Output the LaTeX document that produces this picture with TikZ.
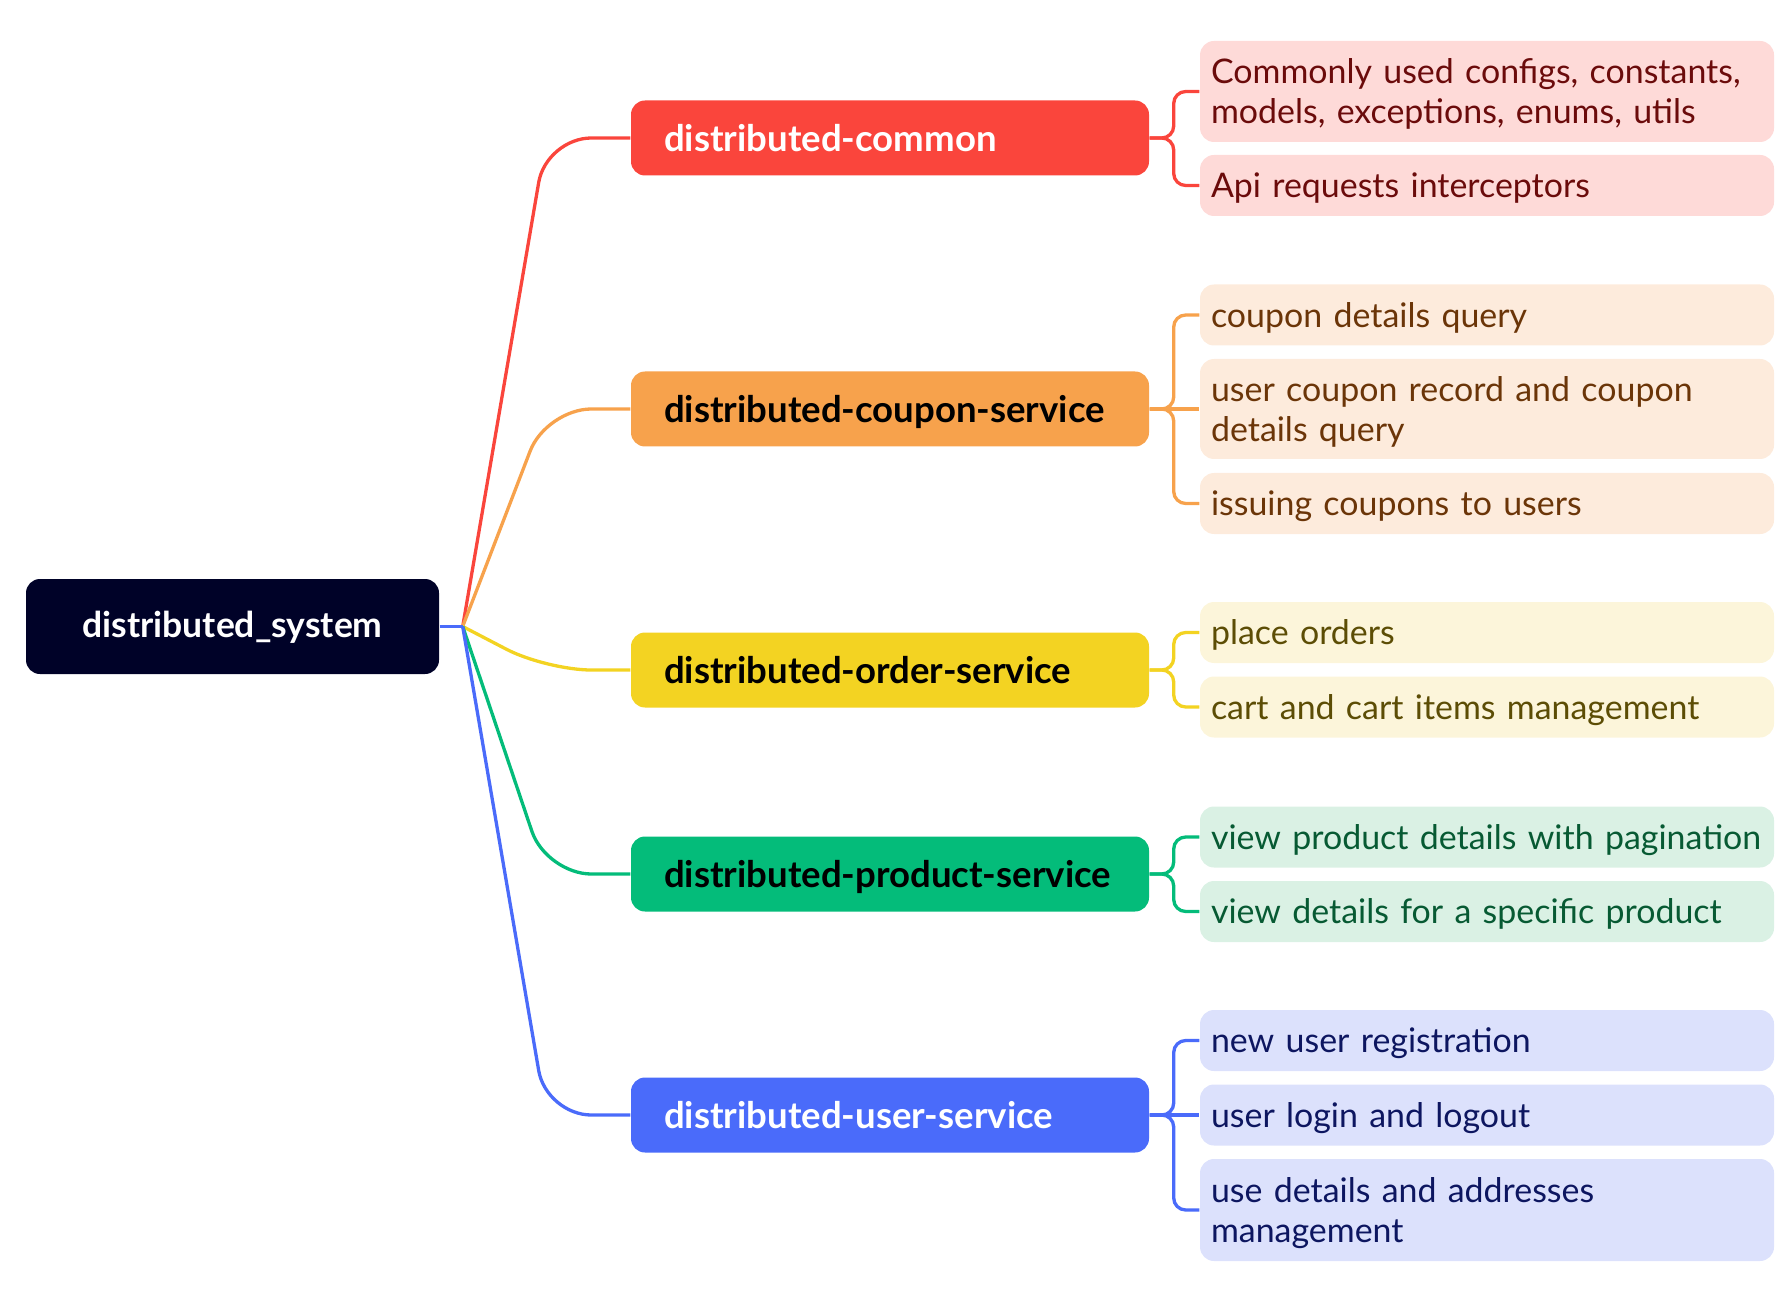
\documentclass[tikz,border=0pt]{standalone}
\usepackage{fontspec}
\setmainfont{Lato}
\definecolor{rootbg}{HTML}{000228}
\definecolor{cred}{HTML}{FA453C}
\definecolor{cora}{HTML}{F7A24C}
\definecolor{cyel}{HTML}{F3D322}
\definecolor{cgrn}{HTML}{04BC7A}
\definecolor{cblu}{HTML}{4A6BFA}
\definecolor{lred}{HTML}{FEDAD8}
\definecolor{lora}{HTML}{FDEBDC}
\definecolor{lyel}{HTML}{FCF5DA}
\definecolor{lgrn}{HTML}{DAF1E4}
\definecolor{lblu}{HTML}{DCE1FC}
\definecolor{tred}{HTML}{6B0B0B}
\definecolor{tora}{HTML}{6B3508}
\definecolor{tyel}{HTML}{5C4D05}
\definecolor{tgrn}{HTML}{075A33}
\definecolor{tblu}{HTML}{0D1660}
\begin{document}
\begin{tikzpicture}[x=0.1mm, y=-0.1mm]
\tikzstyle{every node}=[rounded corners=1.4mm, inner sep=0pt]
\tikzstyle{topic}=[minimum height=7.5mm, text width=45.2mm, align=left, inner xsep=3.3mm, font=\fontsize{10.4}{12}\selectfont\bfseries, execute at begin node={\rule{0pt}{10pt}}, execute at end node={\rule[-2.1pt]{0pt}{0pt}}]
\tikzstyle{leaf}=[minimum height=6.1mm, text width=55.2mm, align=left, inner xsep=1.1mm, font=\fontsize{9.65}{11.4}\selectfont, execute at begin node={\rule{0pt}{9.5pt}}, execute at end node={\rule[-2.5pt]{0pt}{0pt}}]
\tikzstyle{link}=[line width=0.33mm, rounded corners=4.5mm]
\tikzstyle{fork}=[line width=0.33mm, rounded corners=1.2mm]
\useasboundingbox (0,0) rectangle (1792,1290);
\node[fill=rootbg, text=white, minimum width=41.3mm, minimum height=9.5mm, text height=9pt, text depth=2.7pt, font=\fontsize{10.1}{12}\selectfont\bfseries](root) at (232.5,626.5) {distributed\_system};
% main branches
\node[topic,fill=cred,text=white](m0) at (890,138) {distributed-common};
\node[topic,fill=cora](m1) at (890,409) {distributed-coupon-service};
\node[topic,fill=cyel](m2) at (890,670) {distributed-order-service};
\node[topic,fill=cgrn](m3) at (890,874) {distributed-product-service};
\node[topic,fill=cblu,text=white](m4) at (890,1115) {distributed-user-service};
% leaves
\node[leaf,fill=lred,text=tred,minimum height=10.1mm](l00) at (1487,91.5) {Commonly used configs, constants,\\models, exceptions, enums, utils};
\node[leaf,fill=lred,text=tred](l01) at (1487,185.5) {Api requests interceptors};
\node[leaf,fill=lora,text=tora](l10) at (1487,315) {coupon details query};
\node[leaf,fill=lora,text=tora,minimum height=10mm](l11) at (1487,409) {user coupon record and coupon\\details query};
\node[leaf,fill=lora,text=tora](l12) at (1487,503.5) {issuing coupons to users};
\node[leaf,fill=lyel,text=tyel](l20) at (1487,632.5) {place orders};
\node[leaf,fill=lyel,text=tyel](l21) at (1487,707) {cart and cart items management};
\node[leaf,fill=lgrn,text=tgrn](l30) at (1487,837) {view product details with pagination};
\node[leaf,fill=lgrn,text=tgrn](l31) at (1487,911.5) {view details for a specific product};
\node[leaf,fill=lblu,text=tblu](l40) at (1487,1040.5) {new user registration};
\node[leaf,fill=lblu,text=tblu](l41) at (1487,1115) {user login and logout};
\node[leaf,fill=lblu,text=tblu,minimum height=10.2mm](l42) at (1487,1210) {use details and addresses\\management};
% root to branches
\coordinate (hub) at ([xshift=2.3mm]root.east);
\draw[link,cred] (hub) -- ([xshift=-8.4mm]m0.west) -- (m0.west);
\draw[link,cora] (hub) -- ([xshift=-8.4mm]m1.west) -- (m1.west);
\draw[link,cyel] (hub) -- ([xshift=-8.4mm]m2.west) -- (m2.west);
\draw[link,cgrn] (hub) -- ([xshift=-8.4mm]m3.west) -- (m3.west);
\draw[link,cblu] (hub) -- ([xshift=-8.4mm]m4.west) -- (m4.west);
\draw[link,cblu] (root.east) -- (hub);
% branches to leaves
\draw[fork,cred] (m0.east) -- ++(2.4mm,0) |- (l00.west);
\draw[fork,cred] (m0.east) -- ++(2.4mm,0) |- (l01.west);
\draw[fork,cora] (m1.east) -- ++(2.4mm,0) |- (l10.west);
\draw[fork,cora] (m1.east) -- (l11.west);
\draw[fork,cora] (m1.east) -- ++(2.4mm,0) |- (l12.west);
\draw[fork,cyel] (m2.east) -- ++(2.4mm,0) |- (l20.west);
\draw[fork,cyel] (m2.east) -- ++(2.4mm,0) |- (l21.west);
\draw[fork,cgrn] (m3.east) -- ++(2.4mm,0) |- (l30.west);
\draw[fork,cgrn] (m3.east) -- ++(2.4mm,0) |- (l31.west);
\draw[fork,cblu] (m4.east) -- ++(2.4mm,0) |- (l40.west);
\draw[fork,cblu] (m4.east) -- (l41.west);
\draw[fork,cblu] (m4.east) -- ++(2.4mm,0) |- (l42.west);
\end{tikzpicture}
\end{document}
